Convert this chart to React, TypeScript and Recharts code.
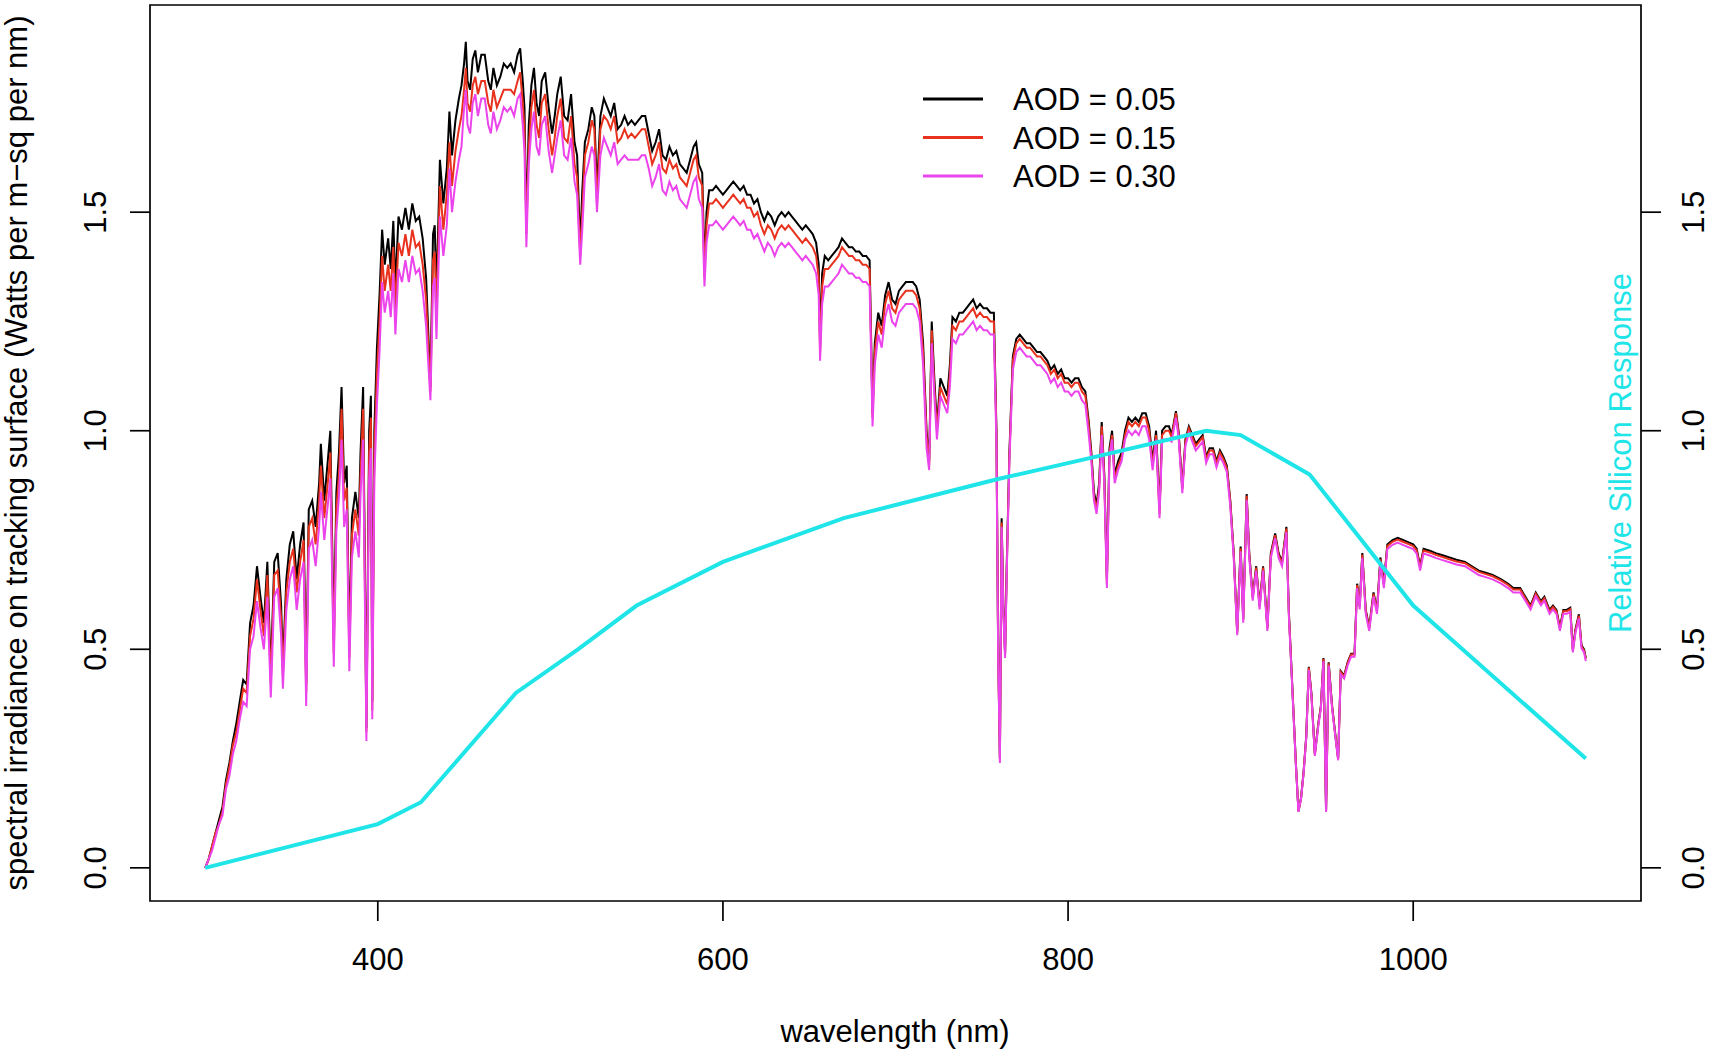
import { LineChart, Line, XAxis, YAxis, ReferenceArea } from 'recharts';

// wavelength grid (nm) shared by the three irradiance curves
const wavelengths = [
  // 300-401
  300, 302, 304, 306, 308, 310, 312, 314, 316, 318,
  320, 322, 324, 326, 328, 330, 332, 334, 336, 338,
  340, 342, 344, 345, 347, 349, 351, 353, 355, 357,
  358.5, 360, 362, 364, 366, 367, 369, 371, 372.5, 374.5,
  376, 377.5, 379, 380.5, 382, 383.5, 385, 387, 389, 390,
  391.5, 393.4, 395, 396, 396.8, 398, 399.5, 401,
  // 402-449
  402.5, 404, 406, 407.5, 409, 410.2, 412, 414, 416, 418,
  420, 422, 424, 426, 428, 430.5, 432, 433, 434, 436,
  438, 440, 441.5, 443, 445, 447, 448.5,
  // 450-519
  450, 451, 452, 453.5, 455, 456.5, 458, 460, 462, 464,
  465.5, 467, 469, 471, 473, 475, 477, 479, 481, 482.5,
  484, 485, 486.1, 487.5, 489, 490.5, 492, 493.5, 495, 497,
  499, 501, 502.5, 504, 506, 508, 510, 512, 514, 515.5,
  517.3, 518.5,
  // 520-659
  520, 522, 524, 525.5, 527, 529, 531, 533, 535, 537,
  539, 541, 543, 545, 547, 549, 551, 553, 555, 557,
  559, 561, 563, 565, 567, 569, 571, 573, 575, 577,
  579, 581, 583, 584.5, 586, 588, 589.3, 590.5, 592, 594,
  596, 598, 600, 602, 604, 606, 608, 610, 612, 614,
  616, 618, 620, 622, 624, 626, 628, 630, 632, 634,
  636, 638, 640, 642, 644, 646, 648, 650, 652, 654,
  655.5, 656.3, 657.5, 659,
  // 661-760
  661, 663, 665, 667, 669, 671, 673, 675, 677, 679,
  681, 683, 685, 686.7, 688, 690, 692, 694, 696, 698,
  700, 702, 704, 706, 708, 710, 712, 714, 716, 718,
  719.5, 721, 722.5, 724, 726, 728, 730, 731.5, 733, 735,
  737, 739, 741, 743, 745, 747, 749, 751, 753, 755,
  757, 758.5, 759.5, 760.5,
  // 761-859
  761.5, 762.5, 763.5, 764.5, 766, 768, 770, 772, 774, 776,
  778, 780, 782, 784, 786, 788, 790, 792, 794, 796,
  798, 800, 802, 804, 806, 808, 810, 812, 813.5, 815,
  816.5, 818, 819.5, 821, 822.5, 824, 825.5, 827, 829, 831,
  833, 835, 837, 839, 841, 843, 845, 847, 849, 851,
  853, 854.5, 856.5, 858.5,
  // 860-1100
  860, 862.5, 864, 866.2, 868, 870, 872, 874, 876, 878,
  880, 882, 884, 886, 888, 890, 892, 894, 896, 898,
  900, 901.5, 903.5, 905, 907, 909, 911, 913, 915.5, 917.5,
  920, 922, 924, 926.5, 928, 930, 932, 933.5, 935, 936.5,
  938, 939.5, 941, 943, 945, 946.5, 948, 949.5, 951, 953,
  955, 956.5, 958, 960, 962, 964, 966, 967.5, 969, 970.5,
  972.5, 974.5, 977, 979, 981, 983, 985, 988, 991, 994,
  997, 1000, 1002, 1004, 1006, 1010, 1013, 1017, 1021, 1025,
  1030, 1034, 1038, 1042, 1046, 1051, 1055, 1058, 1062, 1065,
  1068, 1071, 1074, 1076, 1079, 1081, 1083, 1085, 1087, 1089,
  1091, 1092.5, 1094, 1096, 1097.5, 1099, 1100,
];

// AOD = 0.05 (black)
const aod005 = [
  0, 0.02, 0.05, 0.08, 0.11, 0.14, 0.20, 0.24, 0.29, 0.33,
  0.38, 0.43, 0.42, 0.56, 0.60, 0.69, 0.62, 0.56, 0.70, 0.44,
  0.70, 0.72, 0.60, 0.46, 0.66, 0.74, 0.77, 0.66, 0.74, 0.79,
  0.42, 0.82, 0.84, 0.78, 0.88, 0.97, 0.84, 0.93, 1.00, 0.52,
  0.86, 0.95, 1.10, 0.88, 0.92, 0.50, 0.80, 0.86, 0.80, 0.95,
  1.10, 0.32, 1.00, 1.08, 0.38, 1.00, 1.19, 1.31,
  1.46, 1.38, 1.44, 1.37, 1.48, 1.33, 1.49, 1.46, 1.51, 1.46,
  1.52, 1.48, 1.49, 1.44, 1.35, 1.10, 1.45, 1.47, 1.31, 1.62,
  1.52, 1.60, 1.73, 1.63, 1.71, 1.76, 1.79,
  1.84, 1.89, 1.80, 1.78, 1.85, 1.87, 1.82, 1.86, 1.86, 1.80,
  1.78, 1.83, 1.79, 1.81, 1.84, 1.83, 1.84, 1.82, 1.86, 1.875,
  1.80, 1.74, 1.47, 1.70, 1.79, 1.83, 1.75, 1.72, 1.80, 1.82,
  1.74, 1.68, 1.72, 1.77, 1.81, 1.72, 1.71, 1.77, 1.66, 1.63,
  1.42, 1.55,
  1.66, 1.69, 1.74, 1.72, 1.55, 1.72, 1.76, 1.74, 1.72, 1.75,
  1.69, 1.70, 1.72, 1.70, 1.71, 1.70, 1.71, 1.72, 1.72, 1.68,
  1.64, 1.66, 1.69, 1.63, 1.62, 1.65, 1.63, 1.64, 1.61, 1.60,
  1.59, 1.62, 1.65, 1.66, 1.61, 1.59, 1.37, 1.50, 1.55, 1.55,
  1.56, 1.55, 1.54, 1.55, 1.56, 1.57, 1.56, 1.55, 1.56, 1.54,
  1.54, 1.52, 1.53, 1.50, 1.48, 1.50, 1.49, 1.47, 1.49, 1.50,
  1.49, 1.50, 1.49, 1.48, 1.47, 1.46, 1.47, 1.46, 1.45, 1.43,
  1.38, 1.20, 1.36, 1.40,
  1.39, 1.40, 1.41, 1.42, 1.44, 1.43, 1.42, 1.42, 1.41, 1.41,
  1.40, 1.40, 1.39, 1.04, 1.20, 1.27, 1.24, 1.31, 1.34, 1.30,
  1.29, 1.32, 1.33, 1.34, 1.34, 1.34, 1.33, 1.30, 1.20, 1.00,
  0.93, 1.25, 1.12, 1.01, 1.12, 1.10, 1.08, 1.15, 1.26, 1.25,
  1.27, 1.27, 1.28, 1.29, 1.30, 1.28, 1.29, 1.28, 1.28, 1.27,
  1.27, 1.00, 0.50, 0.25,
  0.80, 0.60, 0.49, 0.70, 0.95, 1.17, 1.21, 1.22, 1.21, 1.20,
  1.20, 1.19, 1.18, 1.18, 1.17, 1.16, 1.14, 1.15, 1.13, 1.14,
  1.12, 1.12, 1.11, 1.12, 1.12, 1.10, 1.09, 1.02, 0.95, 0.86,
  0.83, 0.88, 1.02, 0.90, 0.66, 0.96, 1.00, 0.90, 0.93, 0.95,
  1.00, 1.03, 1.02, 1.03, 1.02, 1.04, 1.04, 1.01, 0.93, 1.00,
  0.82, 1.00, 1.01, 1.01,
  0.99, 1.045, 1.00, 0.87, 0.98, 1.01, 0.99, 0.97, 0.98, 0.99,
  0.94, 0.96, 0.96, 0.93, 0.955, 0.94, 0.92, 0.84, 0.72, 0.54,
  0.735, 0.57, 0.855, 0.72, 0.62, 0.69, 0.60, 0.69, 0.55, 0.72,
  0.765, 0.72, 0.70, 0.78, 0.58, 0.41, 0.24, 0.13, 0.16, 0.22,
  0.30, 0.46, 0.40, 0.26, 0.33, 0.37, 0.48, 0.13, 0.47, 0.37,
  0.30, 0.25, 0.45, 0.44, 0.47, 0.49, 0.49, 0.65, 0.60, 0.72,
  0.59, 0.55, 0.63, 0.59, 0.71, 0.65, 0.74, 0.75, 0.755, 0.75,
  0.745, 0.74, 0.73, 0.69, 0.73, 0.725, 0.72, 0.715, 0.71, 0.705,
  0.70, 0.69, 0.68, 0.675, 0.67, 0.66, 0.65, 0.64, 0.64, 0.62,
  0.60, 0.63, 0.61, 0.62, 0.59, 0.60, 0.59, 0.55, 0.59, 0.59,
  0.595, 0.50, 0.545, 0.58, 0.51, 0.50, 0.48,
];

// AOD = 0.15 (red)
const aod015 = [
  0, 0.02, 0.05, 0.08, 0.10, 0.13, 0.19, 0.23, 0.28, 0.31,
  0.36, 0.41, 0.40, 0.53, 0.57, 0.66, 0.59, 0.53, 0.67, 0.42,
  0.67, 0.68, 0.57, 0.44, 0.63, 0.70, 0.73, 0.63, 0.70, 0.75,
  0.40, 0.78, 0.80, 0.74, 0.84, 0.92, 0.80, 0.88, 0.95, 0.49,
  0.82, 0.90, 1.05, 0.84, 0.87, 0.48, 0.76, 0.82, 0.76, 0.90,
  1.05, 0.31, 0.95, 1.03, 0.36, 0.95, 1.13, 1.25,
  1.40, 1.32, 1.38, 1.32, 1.42, 1.28, 1.43, 1.40, 1.45, 1.40,
  1.46, 1.42, 1.43, 1.38, 1.30, 1.09, 1.39, 1.41, 1.26, 1.56,
  1.46, 1.54, 1.66, 1.56, 1.64, 1.69, 1.72,
  1.78, 1.83, 1.75, 1.73, 1.79, 1.81, 1.77, 1.80, 1.80, 1.75,
  1.73, 1.78, 1.74, 1.76, 1.78, 1.78, 1.78, 1.77, 1.80, 1.82,
  1.75, 1.69, 1.45, 1.65, 1.74, 1.78, 1.70, 1.67, 1.75, 1.77,
  1.69, 1.63, 1.67, 1.72, 1.76, 1.67, 1.66, 1.72, 1.61, 1.58,
  1.40, 1.50,
  1.63, 1.66, 1.71, 1.69, 1.52, 1.69, 1.72, 1.71, 1.69, 1.72,
  1.66, 1.67, 1.69, 1.67, 1.68, 1.67, 1.68, 1.69, 1.69, 1.65,
  1.61, 1.63, 1.66, 1.60, 1.59, 1.62, 1.60, 1.61, 1.58, 1.57,
  1.56, 1.59, 1.62, 1.63, 1.58, 1.56, 1.35, 1.47, 1.52, 1.52,
  1.53, 1.52, 1.51, 1.52, 1.53, 1.54, 1.53, 1.52, 1.53, 1.51,
  1.51, 1.49, 1.50, 1.47, 1.45, 1.47, 1.46, 1.44, 1.46, 1.47,
  1.46, 1.47, 1.46, 1.45, 1.44, 1.43, 1.44, 1.43, 1.42, 1.40,
  1.35, 1.18, 1.33, 1.37,
  1.37, 1.38, 1.39, 1.40, 1.42, 1.41, 1.40, 1.40, 1.39, 1.39,
  1.38, 1.38, 1.37, 1.03, 1.18, 1.25, 1.22, 1.29, 1.32, 1.28,
  1.27, 1.30, 1.31, 1.32, 1.32, 1.32, 1.31, 1.28, 1.18, 0.99,
  0.92, 1.23, 1.10, 1.00, 1.10, 1.08, 1.06, 1.13, 1.24, 1.23,
  1.25, 1.25, 1.26, 1.27, 1.28, 1.26, 1.27, 1.26, 1.26, 1.25,
  1.25, 0.99, 0.49, 0.25,
  0.79, 0.59, 0.49, 0.69, 0.94, 1.16, 1.20, 1.21, 1.20, 1.19,
  1.19, 1.18, 1.17, 1.17, 1.16, 1.15, 1.13, 1.14, 1.12, 1.13,
  1.11, 1.11, 1.10, 1.11, 1.11, 1.09, 1.08, 1.01, 0.94, 0.85,
  0.82, 0.87, 1.01, 0.89, 0.65, 0.95, 0.99, 0.89, 0.92, 0.94,
  0.99, 1.02, 1.01, 1.02, 1.01, 1.03, 1.03, 1.00, 0.92, 0.99,
  0.81, 0.99, 1.00, 1.00,
  0.985, 1.04, 0.995, 0.866, 0.975, 1.005, 0.985, 0.965, 0.975, 0.985,
  0.935, 0.955, 0.955, 0.925, 0.95, 0.935, 0.915, 0.836, 0.716, 0.537,
  0.731, 0.567, 0.851, 0.716, 0.617, 0.687, 0.597, 0.687, 0.547, 0.716,
  0.761, 0.716, 0.697, 0.776, 0.577, 0.408, 0.239, 0.129, 0.159, 0.219,
  0.299, 0.458, 0.398, 0.259, 0.328, 0.368, 0.478, 0.129, 0.468, 0.368,
  0.299, 0.249, 0.448, 0.438, 0.468, 0.488, 0.488, 0.647, 0.597, 0.716,
  0.587, 0.547, 0.627, 0.587, 0.706, 0.647, 0.736, 0.746, 0.751, 0.746,
  0.741, 0.736, 0.726, 0.687, 0.726, 0.721, 0.716, 0.711, 0.706, 0.701,
  0.697, 0.687, 0.677, 0.672, 0.667, 0.657, 0.647, 0.637, 0.637, 0.617,
  0.597, 0.627, 0.607, 0.617, 0.587, 0.597, 0.587, 0.547, 0.587, 0.587,
  0.592, 0.497, 0.542, 0.577, 0.507, 0.497, 0.478,
];

// AOD = 0.30 (magenta)
const aod030 = [
  0, 0.02, 0.04, 0.07, 0.10, 0.12, 0.18, 0.21, 0.26, 0.29,
  0.34, 0.38, 0.37, 0.50, 0.53, 0.61, 0.55, 0.50, 0.62, 0.39,
  0.62, 0.64, 0.53, 0.41, 0.59, 0.66, 0.69, 0.59, 0.66, 0.70,
  0.37, 0.73, 0.75, 0.69, 0.78, 0.86, 0.75, 0.83, 0.89, 0.46,
  0.77, 0.85, 0.98, 0.78, 0.82, 0.45, 0.71, 0.77, 0.71, 0.85,
  0.98, 0.29, 0.89, 0.96, 0.34, 0.89, 1.06, 1.18,
  1.34, 1.27, 1.32, 1.26, 1.36, 1.22, 1.37, 1.34, 1.39, 1.34,
  1.40, 1.36, 1.37, 1.32, 1.24, 1.07, 1.33, 1.35, 1.21, 1.49,
  1.40, 1.47, 1.60, 1.50, 1.57, 1.62, 1.65,
  1.74, 1.78, 1.70, 1.68, 1.75, 1.77, 1.72, 1.76, 1.76, 1.70,
  1.68, 1.73, 1.69, 1.71, 1.74, 1.73, 1.74, 1.72, 1.76, 1.77,
  1.70, 1.64, 1.42, 1.61, 1.69, 1.73, 1.65, 1.63, 1.70, 1.72,
  1.64, 1.59, 1.63, 1.67, 1.71, 1.63, 1.62, 1.67, 1.57, 1.54,
  1.38, 1.46,
  1.58, 1.61, 1.65, 1.63, 1.50, 1.63, 1.67, 1.65, 1.63, 1.66,
  1.61, 1.62, 1.63, 1.62, 1.62, 1.62, 1.62, 1.63, 1.63, 1.60,
  1.56, 1.58, 1.61, 1.55, 1.54, 1.57, 1.55, 1.56, 1.53, 1.52,
  1.51, 1.54, 1.57, 1.58, 1.53, 1.51, 1.33, 1.43, 1.47, 1.47,
  1.48, 1.47, 1.46, 1.47, 1.48, 1.49, 1.48, 1.47, 1.48, 1.46,
  1.46, 1.44, 1.45, 1.43, 1.41, 1.43, 1.42, 1.40, 1.42, 1.43,
  1.42, 1.43, 1.42, 1.41, 1.40, 1.39, 1.40, 1.39, 1.38, 1.36,
  1.31, 1.16, 1.29, 1.33,
  1.33, 1.34, 1.35, 1.36, 1.38, 1.37, 1.36, 1.36, 1.35, 1.35,
  1.34, 1.34, 1.33, 1.01, 1.15, 1.22, 1.19, 1.26, 1.29, 1.25,
  1.24, 1.27, 1.28, 1.29, 1.29, 1.29, 1.28, 1.25, 1.15, 0.96,
  0.91, 1.20, 1.08, 0.98, 1.08, 1.06, 1.04, 1.10, 1.21, 1.20,
  1.22, 1.22, 1.23, 1.24, 1.25, 1.23, 1.24, 1.23, 1.23, 1.22,
  1.22, 0.97, 0.48, 0.24,
  0.78, 0.58, 0.48, 0.68, 0.93, 1.14, 1.18, 1.19, 1.18, 1.17,
  1.17, 1.16, 1.15, 1.15, 1.14, 1.13, 1.11, 1.12, 1.10, 1.11,
  1.09, 1.09, 1.08, 1.09, 1.09, 1.07, 1.06, 0.99, 0.93, 0.84,
  0.81, 0.86, 0.99, 0.88, 0.64, 0.94, 0.98, 0.88, 0.91, 0.93,
  0.98, 1.00, 0.99, 1.00, 0.99, 1.01, 1.01, 0.98, 0.91, 0.98,
  0.80, 0.98, 0.98, 0.98,
  0.975, 1.03, 0.985, 0.857, 0.965, 0.995, 0.975, 0.955, 0.965, 0.975,
  0.926, 0.946, 0.946, 0.916, 0.941, 0.926, 0.906, 0.827, 0.709, 0.532,
  0.724, 0.561, 0.842, 0.709, 0.611, 0.68, 0.591, 0.68, 0.542, 0.709,
  0.754, 0.709, 0.69, 0.768, 0.571, 0.404, 0.236, 0.128, 0.158, 0.217,
  0.296, 0.453, 0.394, 0.256, 0.325, 0.364, 0.473, 0.128, 0.463, 0.364,
  0.296, 0.246, 0.443, 0.433, 0.463, 0.483, 0.483, 0.64, 0.591, 0.709,
  0.581, 0.542, 0.621, 0.581, 0.699, 0.64, 0.729, 0.739, 0.744, 0.739,
  0.734, 0.729, 0.719, 0.68, 0.719, 0.714, 0.709, 0.704, 0.699, 0.694,
  0.69, 0.68, 0.67, 0.665, 0.66, 0.65, 0.64, 0.63, 0.63, 0.611,
  0.591, 0.621, 0.601, 0.611, 0.581, 0.591, 0.581, 0.542, 0.581, 0.581,
  0.586, 0.493, 0.537, 0.571, 0.502, 0.493, 0.473,
];

// relative silicon response (cyan)
const siliconNm = [300, 400, 425, 480, 516, 550, 600, 670, 720, 760, 810, 880, 900, 940, 1000, 1100];
const siliconResp = [0, 0.10, 0.15, 0.40, 0.50, 0.60, 0.70, 0.80, 0.85, 0.89, 0.935, 1.00, 0.99, 0.90, 0.60, 0.25];

const xTicks = [400, 600, 800, 1000];
const yTicks = [0, 0.5, 1.0, 1.5];

const legendItems = [
  { label: 'AOD = 0.05', color: '#000000' },
  { label: 'AOD = 0.15', color: '#E8321E' },
  { label: 'AOD = 0.30', color: '#EC44EC' },
];

const X_DOMAIN: [number, number] = [268, 1132];
const Y_DOMAIN: [number, number] = [-0.0759, 1.974];
const FONT = '"Liberation Sans", Arial, Helvetica, sans-serif';
const CYAN = '#1FE5E8';

const rows = wavelengths.map((nm, i) => ({
  nm,
  a: aod005[i],
  b: aod015[i],
  c: aod030[i],
}));

const siliconRows = siliconNm.map((nm, i) => ({ nm, resp: siliconResp[i] }));

const XTick = ({ x, payload }: any) => (
  <text x={x} y={970} textAnchor="middle" fontFamily={FONT} fontSize={31} fill="#000">
    {payload.value}
  </text>
);

const LeftTick = ({ y, payload }: any) => (
  <text x={106} y={y} transform={`rotate(-90 106 ${y})`} textAnchor="middle" fontFamily={FONT} fontSize={31} fill="#000">
    {Number(payload.value).toFixed(1)}
  </text>
);

const RightTick = ({ y, payload }: any) => (
  <text x={1704} y={y} transform={`rotate(-90 1704 ${y})`} textAnchor="middle" fontFamily={FONT} fontSize={31} fill="#000">
    {Number(payload.value).toFixed(1)}
  </text>
);

export default function App() {
  const tickLine = { stroke: '#000', strokeWidth: 1.7 };
  return (
    <div style={{ position: 'absolute', left: 0, top: 0, width: 1713, height: 1054, background: '#fff' }}>
      <LineChart width={1713} height={1054} data={rows} margin={{ top: 5, right: 0, bottom: 0, left: 0 }}>
        <XAxis
          type="number"
          dataKey="nm"
          domain={X_DOMAIN}
          ticks={xTicks}
          interval={0}
          allowDataOverflow
          height={153}
          axisLine={false}
          tickLine={tickLine}
          tickSize={20}
          tick={XTick}
        />
        <YAxis
          yAxisId="left"
          type="number"
          domain={Y_DOMAIN}
          ticks={yTicks}
          interval={0}
          allowDataOverflow
          width={150}
          axisLine={false}
          tickLine={tickLine}
          tickSize={20}
          tick={LeftTick}
        />
        <YAxis
          yAxisId="right"
          orientation="right"
          type="number"
          domain={Y_DOMAIN}
          ticks={yTicks}
          interval={0}
          allowDataOverflow
          width={72}
          axisLine={false}
          tickLine={tickLine}
          tickSize={20}
          tick={RightTick}
        />
        <Line yAxisId="left" type="linear" dataKey="a" stroke="#000000" strokeWidth={2} dot={false} isAnimationActive={false} />
        <Line yAxisId="left" type="linear" dataKey="b" stroke="#E8321E" strokeWidth={2} dot={false} isAnimationActive={false} />
        <Line yAxisId="left" type="linear" dataKey="c" stroke="#EC44EC" strokeWidth={2} dot={false} isAnimationActive={false} />
        <Line
          yAxisId="left"
          type="linear"
          data={siliconRows}
          dataKey="resp"
          stroke={CYAN}
          strokeWidth={4}
          dot={false}
          isAnimationActive={false}
        />
        <ReferenceArea
          yAxisId="left"
          x1={X_DOMAIN[0]}
          x2={X_DOMAIN[1]}
          y1={Y_DOMAIN[0]}
          y2={Y_DOMAIN[1]}
          fill="none"
          stroke="#000"
          strokeWidth={1.7}
          ifOverflow="visible"
        />
      </LineChart>

      {/* axis titles and legend */}
      <svg width={1713} height={1054} style={{ position: 'absolute', left: 0, top: 0, pointerEvents: 'none' }}>
        <text x={895} y={1042} textAnchor="middle" fontFamily={FONT} fontSize={31} fill="#000">
          wavelength (nm)
        </text>
        <text x={27} y={453} transform="rotate(-90 27 453)" textAnchor="middle" fontFamily={FONT} fontSize={31} fill="#000">
          spectral irradiance on tracking surface (Watts per m−sq per nm)
        </text>
        <text x={1631} y={453} transform="rotate(-90 1631 453)" textAnchor="middle" fontFamily={FONT} fontSize={31} fill={CYAN}>
          Relative Silicon Response
        </text>
        {legendItems.map((item, i) => (
          <g key={item.label}>
            <line x1={923} x2={983} y1={99 + i * 38.5} y2={99 + i * 38.5} stroke={item.color} strokeWidth={3} />
            <text x={1013} y={110 + i * 38.5} fontFamily={FONT} fontSize={31} fill="#000">
              {item.label}
            </text>
          </g>
        ))}
      </svg>
    </div>
  );
}
